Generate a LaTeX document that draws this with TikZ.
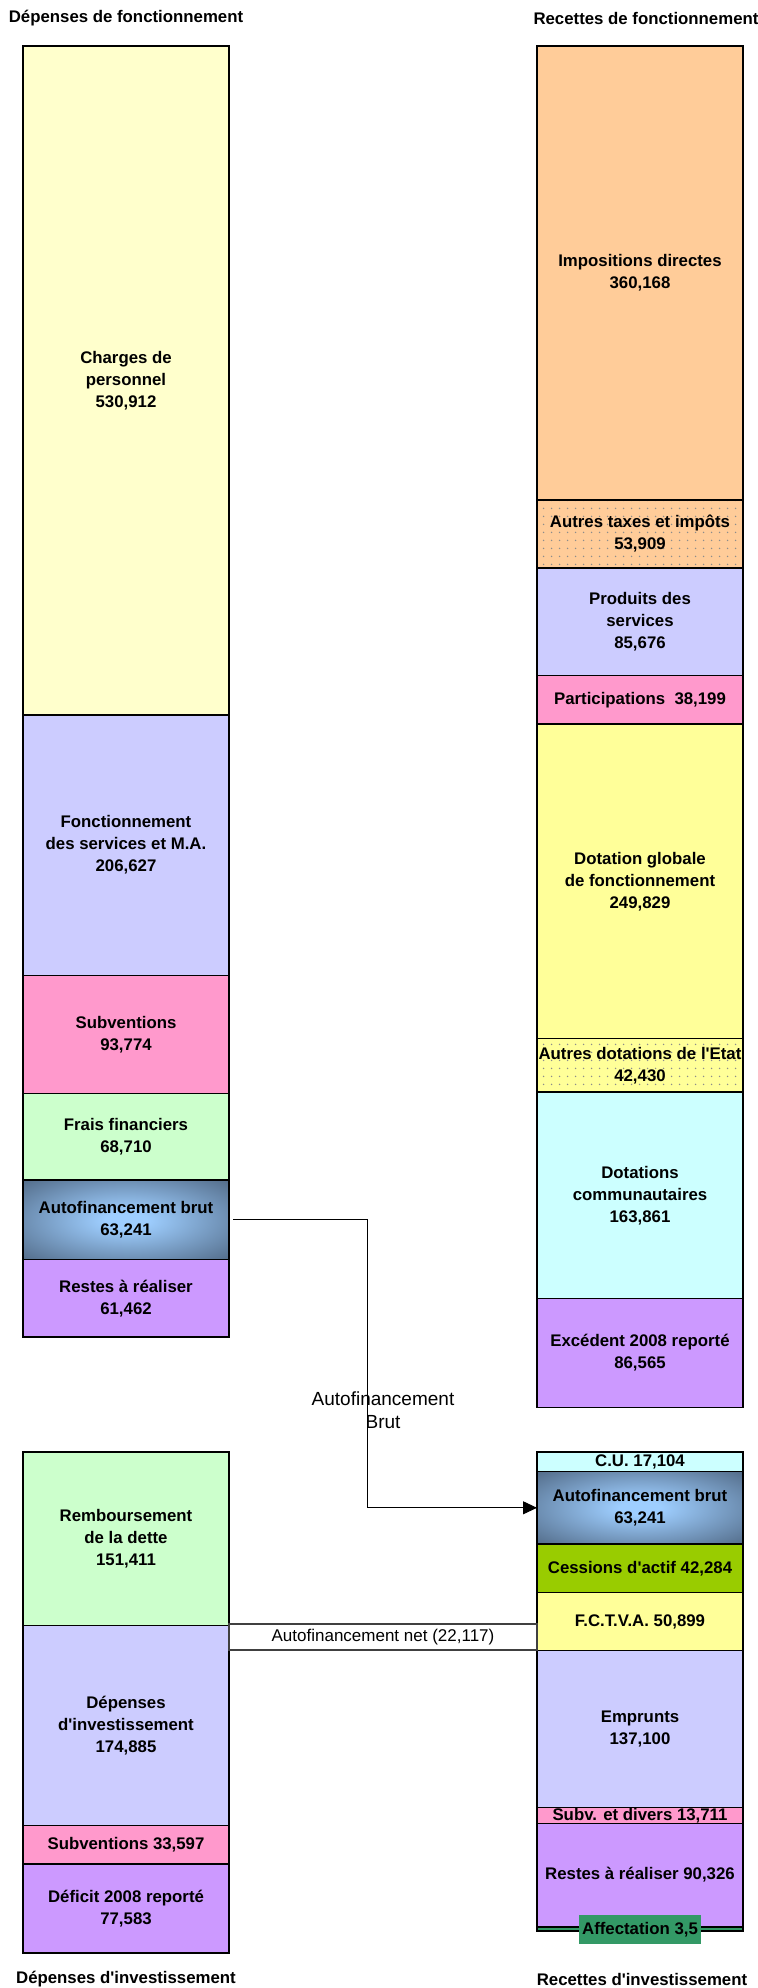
\documentclass[tikz,border=0pt]{standalone}
\usepackage{fontspec}
\setmainfont{Liberation Sans}
\usetikzlibrary{arrows.meta,positioning,patterns.meta}
\definecolor{cCream}{HTML}{FFFFCC}
\definecolor{cLavender}{HTML}{CCCCFF}
\definecolor{cPink}{HTML}{FF99CC}
\definecolor{cMint}{HTML}{CCFFCC}
\definecolor{cMauve}{HTML}{CC99FF}
\definecolor{cPeach}{HTML}{FFCC99}
\definecolor{cLemon}{HTML}{FFFF99}
\definecolor{cCyan}{HTML}{CCFFFF}
\definecolor{cOlive}{HTML}{99CC00}
\definecolor{cGreen}{HTML}{339966}
\definecolor{afLight}{RGB}{158,206,255}
\definecolor{afDark}{RGB}{72,94,120}
\pgfdeclareradialshading{afshade}{\pgfpoint{0bp}{0bp}}{color(0bp)=(afLight); color(5bp)=(afLight); color(40bp)=(afDark); color(80bp)=(afDark)}
\newcommand\barfont{\fontsize{8.4}{11}\selectfont\bfseries}
\newcommand\notefont{\fontsize{9.5}{11.5}\selectfont}
\newcommand\netfont{\fontsize{8.5}{9.5}\selectfont}
\newcommand\ap{\textquotesingle}

\begin{document}
\begin{tikzpicture}[
    x=0.5pt, y=-0.5pt,
    every node/.style={font=\barfont},
    bar/.style={draw=black, line width=0.75pt, minimum width=103pt, inner sep=0pt, outer sep=0pt, align=center},
    fh/.style={minimum height=#1*0.63pt},
    ih/.style={minimum height=#1*0.5725pt},
    dotfill/.style={preaction={fill=#1}, pattern={Dots[radius=0.45pt, distance=4pt]}, pattern color=black!45},
    flow/.style={-{Triangle[length=7pt,width=6.5pt]}, line width=0.5pt}
  ]
    \useasboundingbox (0,0) rectangle (758,1988);

    % section de fonctionnement
    \node (tdf) at (126,18) {D\'epenses de fonctionnement};
    \node (trf) at (646,18) {Recettes de fonctionnement};

    \node[bar, fill=cCream, fh=530.912, anchor=north] (charges) at (126,46) {Charges de\\personnel\\530,912};
    \node[bar, fill=cLavender, fh=206.627, below=0pt of charges] (fonct) {Fonctionnement\\des services et M.A.\\206,627};
    \node[bar, fill=cPink, fh=93.774, below=0pt of fonct] (subv) {Subventions\\93,774};
    \node[bar, fill=cMint, fh=68.710, below=0pt of subv] (frais) {Frais financiers\\68,710};
    \node[bar, shade, shading=afshade, fh=63.241, below=0pt of frais] (afL) {Autofinancement brut\\63,241};
    \node[bar, fill=cMauve, fh=61.462, below=0pt of afL] (rarL) {Restes \`a r\'ealiser\\61,462};

    \node[bar, fill=cPeach, fh=360.168, anchor=north] (impo) at (640,46) {Impositions directes\\360,168};
    \node[bar, dotfill=cPeach, fh=53.909, below=0pt of impo] (taxes) {Autres taxes et imp\^ots\\53,909};
    \node[bar, fill=cLavender, fh=85.676, below=0pt of taxes] (prod) {Produits des\\services\\85,676};
    \node[bar, fill=cPink, fh=38.199, below=0pt of prod] (part) {Participations~~38,199};
    \node[bar, fill=cLemon, fh=249.829, below=0pt of part] (dgf) {Dotation globale\\de fonctionnement\\249,829};
    \node[bar, dotfill=cLemon, fh=42.430, below=0pt of dgf] (etat) {Autres dotations de l\ap Etat\\42,430};
    \node[bar, fill=cCyan, fh=163.861, below=0pt of etat] (comm) {Dotations\\communautaires\\163,861};
    \node[bar, fill=cMauve, fh=86.565, below=0pt of comm] (exc) {Exc\'edent 2008 report\'e\\86,565};

    % section d'investissement
    \node[bar, fill=cMint, ih=151.411, anchor=north] (remb) at (126,1452) {Remboursement\\de la dette\\151,411};
    \node[bar, fill=cLavender, ih=174.885, below=0pt of remb] (depinv) {D\'epenses\\d\ap investissement\\174,885};
    \node[bar, fill=cPink, ih=33.597, below=0pt of depinv] (subvinv) {Subventions 33,597};
    \node[bar, fill=cMauve, ih=77.583, below=0pt of subvinv] (deficit) {D\'eficit 2008 report\'e\\77,583};

    \node[bar, fill=cCyan, ih=17.104, anchor=north] (cu) at (640,1452) {C.U. 17,104};
    \node[bar, shade, shading=afshade, ih=63.241, below=0pt of cu] (afR) {Autofinancement brut\\63,241};
    \node[bar, fill=cOlive, ih=42.284, below=0pt of afR] (cess) {Cessions d\ap actif 42,284};
    \node[bar, fill=cLemon, ih=50.899, below=0pt of cess] (fctva) {F.C.T.V.A. 50,899};
    \node[bar, fill=cLavender, ih=137.100, below=0pt of fctva] (empr) {Emprunts\\137,100};
    \node[bar, fill=cPink, ih=13.711, below=0pt of empr] (subvdiv) {Subv. et divers 13,711};
    \node[bar, fill=cMauve, ih=90.326, below=0pt of subvdiv] (rarR) {Restes \`a r\'ealiser 90,326};
    \node[bar, fill=cGreen, ih=3.5, below=0pt of rarR] (affect) {};
    \node[fill=cGreen, inner xsep=1.5pt, inner ysep=0pt, minimum height=14.5pt] (afflbl) at ([yshift=-0.5pt]affect) {Affectation 3,5};

    \node (tdi) at (126,1979) {D\'epenses d\ap investissement};
    \node (tri) at (642,1979) {Recettes d\ap investissement};

    % liaisons
    \coordinate (knee) at (367,1222);
    \draw[flow] ([xshift=2pt]afL.east) -| (knee |- afR.west) -- (afR.west);
    \node[font=\notefont, align=center] (brut) at (383,1410) {Autofinancement\\Brut};

    \node[draw=black!75, fill=white, line width=0.6pt, minimum width=154pt, minimum height=13pt, inner sep=0pt, font=\netfont] (afnet) at (383,1637) {Autofinancement net (22,117)};
\end{tikzpicture}
\end{document}
